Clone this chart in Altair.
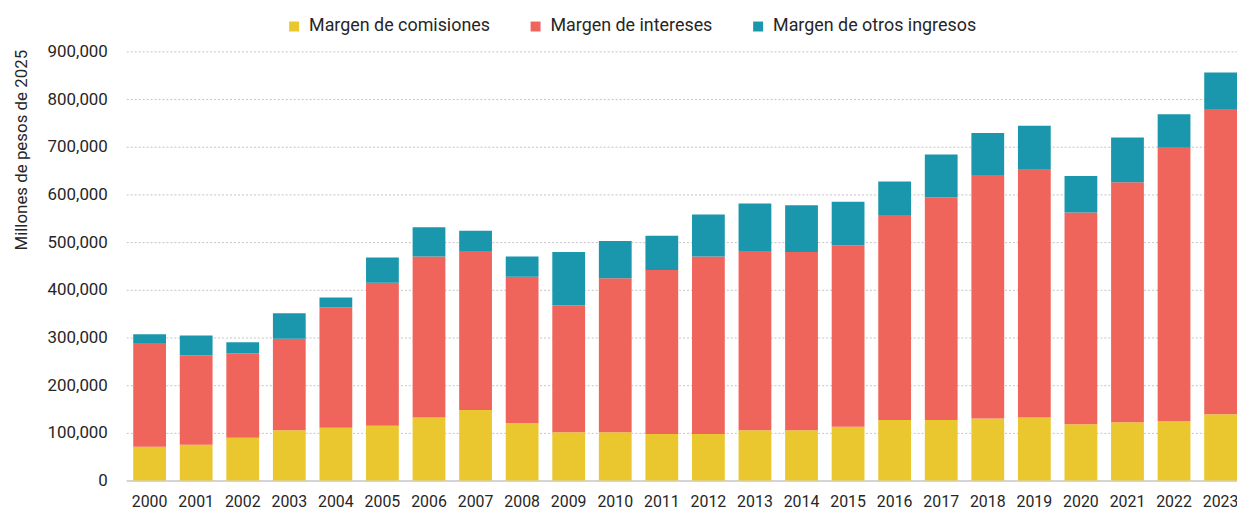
import altair as alt
import pandas as pd

years = [str(y) for y in range(2000, 2024)]
comisiones = [71000, 75000, 89600, 105700, 110500, 114700, 132000, 148000, 120900, 101500,
              101500, 97400, 97400, 105700, 105700, 112600, 127200, 127000, 130000, 132200,
              118200, 122400, 124500, 139000]
intereses = [217500, 187700, 177200, 191800, 253000, 300100, 337800, 333500, 306400, 265400,
             322500, 343900, 372400, 375800, 373800, 380800, 429400, 466500, 510800, 519700,
             444000, 503000, 573200, 640000]
otros = [18500, 41300, 23000, 53500, 20100, 53000, 61200, 42500, 42500, 112600,
         78400, 72300, 88200, 99500, 98000, 91100, 70300, 90300, 88200, 92300,
         76500, 93800, 70300, 76500]

series = ["Margen de comisiones", "Margen de intereses", "Margen de otros ingresos"]
colors = ["#EAC62F", "#F0655B", "#1A97AC"]

rows = []
for i, y in enumerate(years):
    for k, (name, vals) in enumerate(zip(series, [comisiones, intereses, otros])):
        rows.append({"year": y, "serie": name, "valor": vals[i], "orden": k})
df = pd.DataFrame(rows)

FONT = "Roboto"

chart = alt.Chart(df).mark_bar(strokeWidth=0).encode(
    x=alt.X("year:N", title=None,
            scale=alt.Scale(paddingInner=0.296, paddingOuter=0.075, align=1),
            axis=alt.Axis(labelAngle=0, labelFontSize=16, labelPadding=13, ticks=False,
                          domainColor="#d4d4d4", domainWidth=2, labelColor="#262626",
                          labelFont=FONT, grid=False)),
    y=alt.Y("sum(valor):Q", title="Millones de pesos de 2025",
            scale=alt.Scale(domain=[0, 900000], nice=False),
            axis=alt.Axis(values=list(range(0, 900001, 100000)), format=",.0f",
                          labelFontSize=17, labelPadding=19, ticks=False, domain=False,
                          labelColor="#262626", labelFont=FONT,
                          gridColor="#c4c4c4", gridDash=[2, 2], gridWidth=1,
                          titleFont=FONT, titleFontSize=17, titleFontWeight="normal",
                          titleColor="#262626", titleX=-96, titleY=-2, titleAngle=270,
                          titleAlign="right", titleBaseline="bottom")),
    color=alt.Color("serie:N", scale=alt.Scale(domain=series, range=colors),
                    legend=alt.Legend(title=None, orient="none", direction="horizontal",
                                      legendX=160, legendY=-34, symbolType="square",
                                      symbolSize=100, symbolStrokeWidth=0,
                                      labelFontSize=18, labelFont=FONT, labelColor="#262626",
                                      labelOffset=6, columnPadding=36, padding=0,
                                      labelLimit=400)),
    order=alt.Order("orden:Q", sort="ascending"),
).properties(
    width=1118, height=432,
    autosize=alt.AutoSizeParams(type="none"),
    padding={"left": 119, "top": 42, "right": 0, "bottom": 29},
).configure_view(stroke=None)

chart.save("out.html", embed_options={"renderer": "svg", "actions": False})
